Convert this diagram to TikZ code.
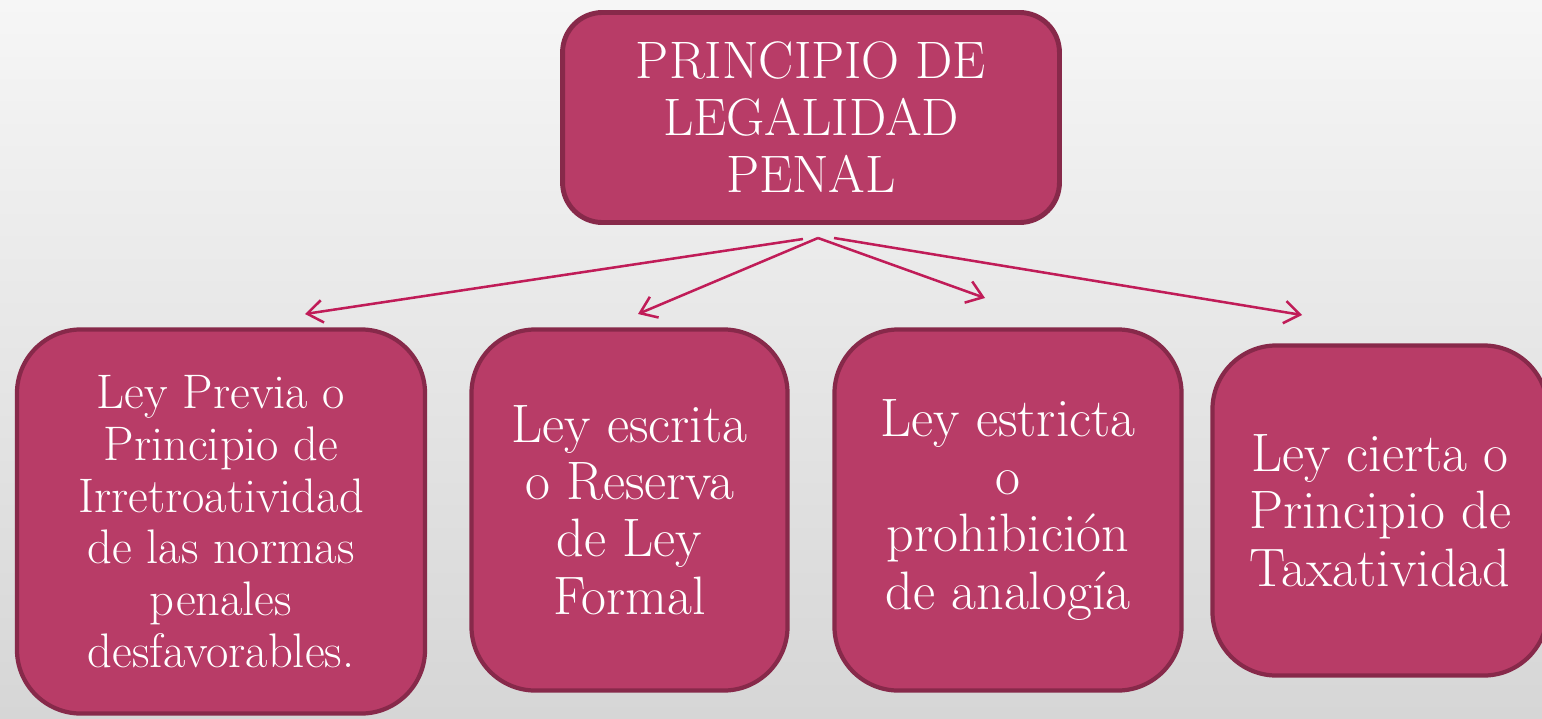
\documentclass[tikz,border=0pt]{standalone}
\usetikzlibrary{arrows.meta}
\definecolor{boxfill}{RGB}{184,60,103}
\definecolor{boxline}{RGB}{135,41,74}
\definecolor{arrowline}{RGB}{192,28,88}
\definecolor{bgtop}{RGB}{246,246,246}
\definecolor{bgbottom}{RGB}{214,214,214}
\begin{document}
\begin{tikzpicture}[x=0.025cm, y=-0.025cm,
    principle/.style ={rectangle, rounded corners=1cm, draw=boxline, fill=boxfill, line width=3.5pt, text=white, align=center, font=\fontsize{37.5}{40.5}\selectfont},
    branch/.style ={principle, rounded corners=1.6cm, line width=3pt, font=\fontsize{38.5}{40.8}\selectfont},
    link/.style ={arrowline, line width=1.8pt, -{Straight Barb[length=11pt,width=16pt]}}]
   \useasboundingbox (0,0) rectangle (1542,718);
   \shade[top color=bgtop, bottom color=bgbottom] (0,0) rectangle (1542,718);
   % main principle
   \node[principle, minimum width=12.42cm, minimum height=5.25cm] (P) at (811,117.5) {PRINCIPIO DE\\LEGALIDAD\\PENAL};
   % the four branches
   \node[branch, minimum width=10.2cm, minimum height=9.6cm, font=\fontsize{34.5}{36.8}\selectfont] (previa) at (221,521.5) {Ley Previa o\\Principio de\\Irretroatividad\\de las normas\\penales\\desfavorables.};
   \node[branch, minimum width=7.9cm, minimum height=9.025cm] (escrita) at (629.5,510) {Ley escrita\\o Reserva\\de Ley\\Formal};
   \node[branch, minimum width=8.675cm, minimum height=9.025cm] (estricta) at (1008,510) {Ley estricta\\o\\prohibición\\de analogía};
   \node[branch, minimum width=8.375cm, minimum height=8.25cm] (cierta) at (1380,510.5) {Ley cierta o\\Principio de\\Taxatividad};
   % arrow ends
   \coordinate (apex) at (818,238);
   \coordinate (fromL) at (803,239);
   \coordinate (fromR) at (834,238);
   \coordinate (toPrevia) at (305,314);
   \coordinate (toEscrita) at (638,314);
   \coordinate (toEstricta) at (985,298);
   \coordinate (toCierta) at (1302,315);
   \draw[link] (fromL) -- (toPrevia);
   \draw[link] (apex) -- (toEscrita);
   \draw[link] (apex) -- (toEstricta);
   \draw[link] (fromR) -- (toCierta);
\end{tikzpicture}
\end{document}
